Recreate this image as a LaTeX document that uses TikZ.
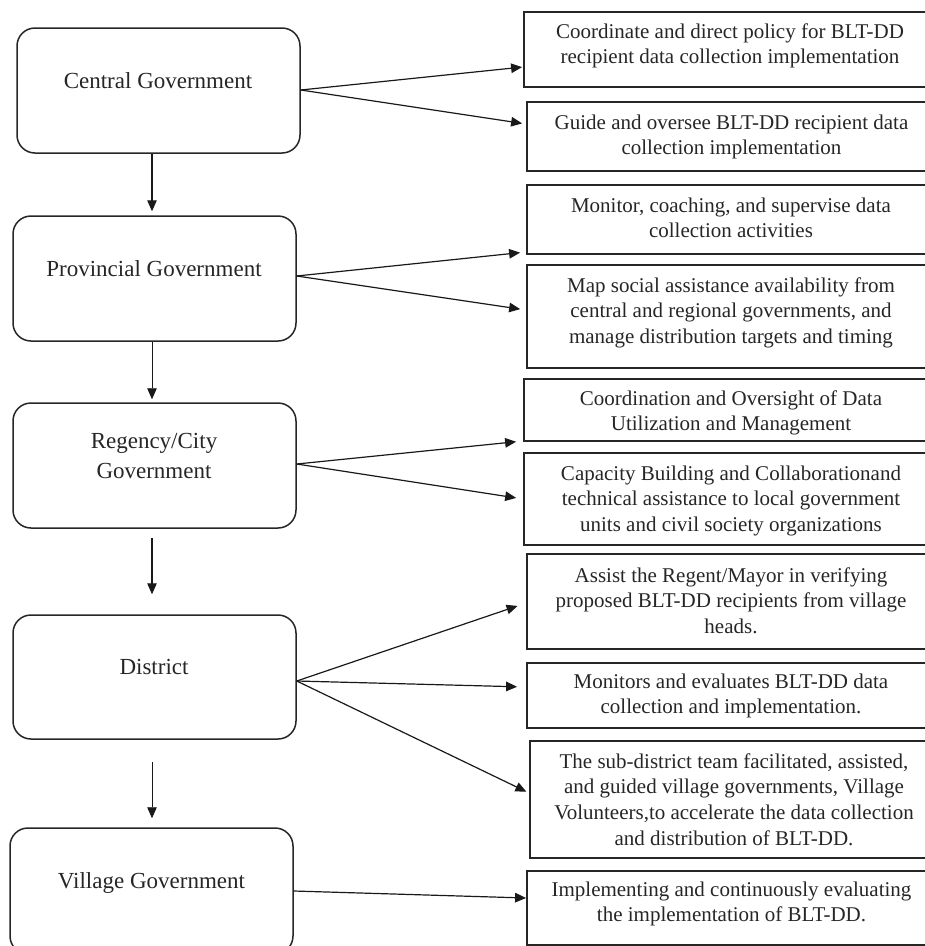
\documentclass[tikz,border=0pt]{standalone}
\usepackage{fontspec}
\usetikzlibrary{arrows.meta}
\newfontfamily\tnr{Liberation Serif}
\begin{document}
\begin{tikzpicture}[x=1pt,y=-1pt,
  lbox/.style={draw=black!85, rounded corners=18pt, line width=1.5pt, inner sep=0pt},
  rbox/.style={draw=black!85, line width=1.8pt, inner sep=0pt},
  ltxt/.style={font=\tnr\fontsize{23}{30}\selectfont, align=center, inner sep=0pt, anchor=base, text=black!85},
  rtxt/.style={font=\tnr\fontsize{21}{25.7}\selectfont, align=center, inner sep=0pt, anchor=base, text=black!85},
  arr/.style={-{Triangle[length=11pt,width=9.5pt]}, line width=1.2pt, draw=black!90}]
\useasboundingbox (0,0) rectangle (925,946);
% left column
\node[lbox, minimum width=283pt, minimum height=125pt] (c1) at (158.5,90.5) {};
\node[lbox, minimum width=283pt, minimum height=125pt] (c2) at (154.5,278.5) {};
\node[lbox, minimum width=283pt, minimum height=125pt] (c3) at (154.5,465.5) {};
\node[lbox, minimum width=283pt, minimum height=124pt] (c4) at (154.5,677) {};
\node[lbox, minimum width=283pt, minimum height=126pt] (c5) at (151.5,891) {};
\node[ltxt] (c1t) at (158,88) {Central Government};
\node[ltxt] (c2t) at (154,276) {Provincial Government};
\node[ltxt] (c3t) at (154,478) {Regency/City\\Government};
\node[ltxt] (c4t) at (154,674) {District};
\node[ltxt] (c5t) at (151.5,888) {Village Government};
% right column
\node[rbox, minimum width=421pt, minimum height=75pt] (r1) at (734.5,49.5) {};
\node[rbox, minimum width=418pt, minimum height=69pt] (r2) at (736,136.5) {};
\node[rbox, minimum width=418pt, minimum height=69pt] (r3) at (736,219.5) {};
\node[rbox, minimum width=418pt, minimum height=103pt] (r4) at (736,316.5) {};
\node[rbox, minimum width=421pt, minimum height=62pt] (r5) at (734.5,410) {};
\node[rbox, minimum width=421pt, minimum height=92pt] (r6) at (734.5,499) {};
\node[rbox, minimum width=418pt, minimum height=95pt] (r7) at (736,601.5) {};
\node[rbox, minimum width=418pt, minimum height=65pt] (r8) at (736,695.5) {};
\node[rbox, minimum width=415pt, minimum height=117pt] (r9) at (737.5,799.5) {};
\node[rbox, minimum width=418pt, minimum height=74pt] (r10) at (736,908) {};
\node[rtxt] (r1t) at (730,63.7) {Coordinate and direct policy for BLT-DD\\recipient data collection implementation};
\node[rtxt] (r2t) at (731.5,154.7) {Guide and oversee BLT-DD recipient data\\collection implementation};
\node[rtxt] (r3t) at (731,237.7) {Monitor, coaching, and supervise data\\collection activities};
\node[rtxt] (r4t) at (731,343.4) {Map social assistance availability from\\central and regional governments, and\\manage distribution targets and timing};
\node[rtxt] (r5t) at (731,430.7) {Coordination and Oversight of Data\\Utilization and Management};
\node[rtxt] (r6t) at (731,531.4) {Capacity Building and Collaborationand\\technical assistance to local government\\units and civil society organizations};
\node[rtxt] (r7t) at (731,633.4) {Assist the Regent/Mayor in verifying\\proposed BLT-DD recipients from village\\heads.};
\node[rtxt] (r8t) at (731,713.7) {Monitors and evaluates BLT-DD data\\collection and implementation.};
\node[rtxt] (r9t) at (734,845.1) {The sub-district team facilitated, assisted,\\and guided village governments, Village\\Volunteers,to accelerate the data collection\\and distribution of BLT-DD.};
\node[rtxt] (r10t) at (731.5,921.7) {Implementing and continuously evaluating\\the implementation of BLT-DD.};
% vertical arrows
\draw[arr, shorten >=4pt] (c1.south -| 152,0) -- (c2.north -| 152,0);
\draw[arr, line width=0.9pt, shorten >=3pt] (c2.south -| 152,0) -- (c3.north -| 152,0);
\draw[arr, shorten <=9pt, shorten >=20pt] (c3.south -| 152,0) -- (c4.north -| 152,0);
\draw[arr, line width=0.9pt, shorten <=22pt, shorten >=9pt] (c4.south -| 152,0) -- (c5.north -| 152,0);
% horizontal arrows
\draw[arr, shorten >=1pt] (c1.east |- 0,90) -- (r1.west |- 0,67);
\draw[arr, shorten >=4pt] (c1.east |- 0,90) -- (r2.west |- 0,124);
\draw[arr, shorten >=6pt] (c2.east |- 0,276) -- (r3.west |- 0,252);
\draw[arr, shorten >=6pt] (c2.east |- 0,276) -- (r4.west |- 0,310);
\draw[arr, shorten >=7pt] (c3.east |- 0,464) -- (r5.west |- 0,441);
\draw[arr, shorten >=7pt] (c3.east |- 0,464) -- (r6.west |- 0,499);
\draw[arr, shorten >=9pt] (c4.east |- 0,681) -- (r7.west |- 0,603);
\draw[arr, shorten >=9pt] (c4.east |- 0,681) -- (r8.west |- 0,687);
\draw[arr, shorten >=3pt] (c4.east |- 0,681) -- (r9.west |- 0,793);
\draw[arr, shorten >=0pt] (c5.east |- 0,891) -- (r10.west |- 0,898);
\end{tikzpicture}
\end{document}
